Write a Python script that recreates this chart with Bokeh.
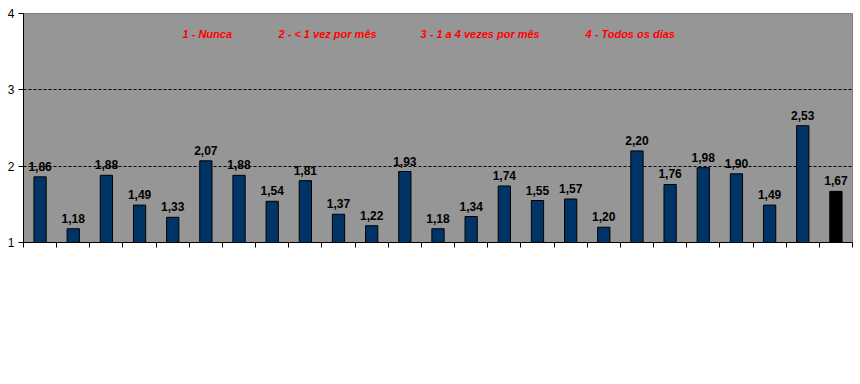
from bokeh.plotting import figure
from bokeh.models import ColumnDataSource, Range1d, FixedTicker, Label, LabelSet
from bokeh.core.properties import value
from bokeh.embed import file_html
from bokeh.resources import INLINE

positions = list(range(1, 26))
values = [1.86, 1.18, 1.88, 1.49, 1.33, 2.07, 1.88, 1.54, 1.81, 1.37, 1.22, 1.93,
          1.18, 1.34, 1.74, 1.55, 1.57, 1.20, 2.20, 1.76, 1.98, 1.90, 1.49, 2.53, 1.67]
colors = ["#003366"] * 24 + ["#000000"]
value_labels = [f"{v:.2f}".replace(".", ",") for v in values]
legend_texts = ["1 - Nunca", "2 - < 1 vez por mês", "3 - 1 a 4 vezes por mês", "4 - Todos os dias"]
legend_x = [159, 255, 397, 562]
y_ticks = [1, 2, 3, 4]

src = ColumnDataSource(dict(x=positions, top=values, color=colors, lab=value_labels))

p = figure(width=860, height=384, output_backend="svg", toolbar_location=None,
           x_range=Range1d(0.5, 25.5), y_range=Range1d(1, 4),
           min_border_left=23, min_border_right=8, min_border_top=13, min_border_bottom=142)
p.outline_line_color = "#808080"
p.background_fill_color = "#969696"
p.border_fill_color = "white"

p.vbar(x="x", width=0.37, bottom=1, top="top", source=src, fill_color="color",
       line_color="black", line_width=1)

p.add_layout(LabelSet(x="x", y="top", text="lab", source=src, text_align="center",
                      text_baseline="bottom", y_offset=6, text_font=value("Liberation Sans"),
                      text_font_style="bold", text_font_size="12px", text_color="black"))

for t, lx in zip(legend_texts, legend_x):
    p.add_layout(Label(x=lx, y=209, x_units="screen", y_units="screen", text=t,
                       text_font="Liberation Sans", text_font_style="bold italic",
                       text_font_size="11px", text_color="#ff0000", text_baseline="middle"))

# grid
p.xgrid.visible = False
p.ygrid.ticker = FixedTicker(ticks=[2, 3])
p.ygrid.grid_line_color = "black"
p.ygrid.grid_line_dash = "3 2"
p.ygrid.grid_line_width = 1

p.yaxis.ticker = FixedTicker(ticks=y_ticks)
p.yaxis.axis_line_color = "black"
p.yaxis.major_tick_out = 5
p.yaxis.major_tick_in = 0
p.yaxis.minor_tick_line_color = None
p.yaxis.major_label_text_font = "Liberation Sans"
p.yaxis.major_label_text_font_size = "12px"
p.yaxis.major_label_text_color = "black"
p.yaxis.major_label_standoff = 4

x_ticks = [i + 0.5 for i in range(0, 26)]
p.xaxis.ticker = FixedTicker(ticks=x_ticks)
p.xaxis.major_label_text_color = None
p.xaxis.major_label_overrides = {t: "" for t in x_ticks}
p.xaxis.axis_line_color = "black"
p.xaxis.major_tick_out = 5
p.xaxis.major_tick_in = 0
p.xaxis.minor_tick_line_color = None

open("out.html", "w").write(file_html(p, INLINE))
